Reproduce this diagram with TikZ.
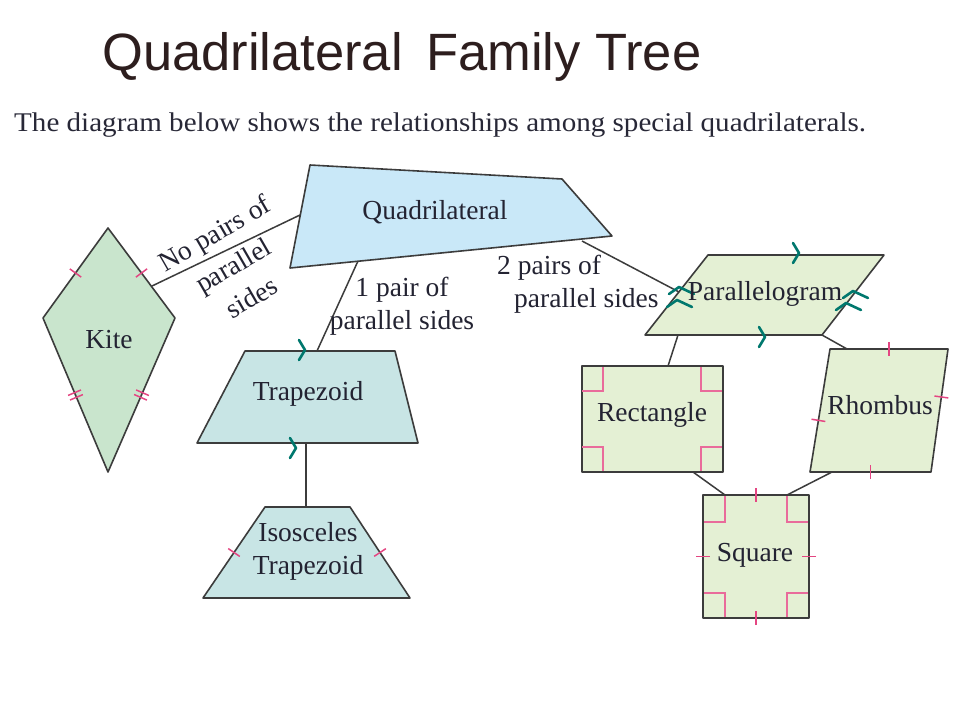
\documentclass[tikz,border=0pt]{standalone}
\usepackage{fontspec}
\setmainfont{Liberation Serif}
\newfontfamily\titlefont{Liberation Sans}
\usetikzlibrary{calc}
\definecolor{titlecol}{RGB}{45,30,30}
\definecolor{subcol}{RGB}{40,40,55}
\definecolor{txtcol}{RGB}{35,35,50}
\definecolor{edgecol}{RGB}{60,60,60}
\definecolor{kitefill}{RGB}{201,229,205}
\definecolor{quadfill}{RGB}{201,232,248}
\definecolor{trapfill}{RGB}{200,229,229}
\definecolor{parafill}{RGB}{228,240,212}
\definecolor{pinkcol}{RGB}{228,70,130}
\definecolor{tealcol}{RGB}{0,120,110}
\tikzset{
  shapebox/.style={draw=edgecol, line width=1.6pt, line join=round},
  link/.style={draw=edgecol, line width=1.5pt},
  lbl/.style={text=txtcol, font=\fontsize{27.5}{33}\selectfont, inner sep=0pt, align=center},
  tickc/.style={draw=pinkcol, line width=1.5pt},
  rightmark/.style={draw=pinkcol!80, line width=1.5pt},
  tealmark/.style={draw=tealcol, line width=2.6pt, line join=round, line cap=round}
}
\newcommand\tickat[3][0.5]{\draw[tickc] ($(#2)!#1!(#3)!7pt!90:(#3)$) -- ($(#2)!#1!(#3)!7pt!-90:(#3)$);}
\newcommand\dtickat[2]{%
  \draw[tickc] ($(#1)!0.5!(#2)!2.5pt!(#2)!7pt!90:(#2)$) -- ($(#1)!0.5!(#2)!2.5pt!(#2)!7pt!-90:(#2)$);
  \draw[tickc] ($(#1)!0.5!(#2)!-2.5pt!(#2)!7pt!90:(#2)$) -- ($(#1)!0.5!(#2)!-2.5pt!(#2)!7pt!-90:(#2)$);}
\newcommand\arrowmark[2]{\draw[tealmark] (#1-3,#2-10) -- (#1+3,#2) -- (#1-3,#2+10);}
\newcommand\hatmark[2]{\draw[tealmark] (#1-13,#2+4) -- (#1-3,#2-3) -- (#1+12,#2+4);}
\begin{document}
\begin{tikzpicture}[x=1pt,y=-1pt]
\useasboundingbox (0,0) rectangle (960,720);
\fill[white] (0,0) rectangle (960,720);

% title and subtitle
\node[anchor=base west, inner sep=0pt, text=titlecol, font=\titlefont\fontsize{52.5}{60}\selectfont] (title) at (102,70) {Quadrilateral\ \,Family Tree};
\node[anchor=base west, inner sep=0pt, text=subcol, font=\fontsize{27}{30}\selectfont] (subtitle) at (14,131) {\scalebox{1.077}[1]{The diagram below shows the relationships among special quadrilaterals.}};

% shape corner coordinates
\coordinate (kT) at (108,228); \coordinate (kL) at (43,318);
\coordinate (kR) at (175,318); \coordinate (kB) at (108,472);
\coordinate (qA) at (310,165); \coordinate (qB) at (562,179);
\coordinate (qC) at (612,236); \coordinate (qD) at (290,268);
\coordinate (tA) at (245,351); \coordinate (tB) at (395,351);
\coordinate (tC) at (418,443); \coordinate (tD) at (197,443);
\coordinate (iA) at (265,507); \coordinate (iB) at (350,507);
\coordinate (iC) at (410,598); \coordinate (iD) at (203,598);
\coordinate (pA) at (708,255); \coordinate (pB) at (884,255);
\coordinate (pC) at (822,335); \coordinate (pD) at (645,335);
\coordinate (rA) at (582,366); \coordinate (rB) at (723,366);
\coordinate (rC) at (723,472); \coordinate (rD) at (582,472);
\coordinate (hA) at (830,349); \coordinate (hB) at (948,349);
\coordinate (hC) at (931,472); \coordinate (hD) at (810,472);
\coordinate (sA) at (703,495); \coordinate (sB) at (809,495);
\coordinate (sC) at (809,618); \coordinate (sD) at (703,618);

% connector end points
\coordinate (c1a) at (152,286); \coordinate (c1b) at (300,215);
\coordinate (c2a) at (358,261); \coordinate (c2b) at (317,351);
\coordinate (c3a) at (582,241); \coordinate (c3b) at (679,292);
\coordinate (c4a) at (306,443); \coordinate (c4b) at (306,507);
\coordinate (c5a) at (678,335); \coordinate (c5b) at (668,366);
\coordinate (c6b) at (847,349);
\coordinate (c7a) at (693,472); \coordinate (c7b) at (725,495);
\coordinate (c8a) at (832,472); \coordinate (c8b) at (787,495);

% connectors
\draw[link] (c1a) -- (c1b);
\draw[link] (c2a) -- (c2b);
\draw[link] (c3a) -- (c3b);
\draw[link] (c4a) -- (c4b);
\draw[link] (c5a) -- (c5b);
\draw[link] (pC) -- (c6b);
\draw[link] (c7a) -- (c7b);
\draw[link] (c8a) -- (c8b);

% shapes
\filldraw[shapebox, fill=kitefill] (kT) -- (kR) -- (kB) -- (kL) -- cycle;
\filldraw[shapebox, fill=quadfill] (qA) -- (qB) -- (qC) -- (qD) -- cycle;
\filldraw[shapebox, fill=trapfill] (tA) -- (tB) -- (tC) -- (tD) -- cycle;
\filldraw[shapebox, fill=trapfill] (iA) -- (iB) -- (iC) -- (iD) -- cycle;
\filldraw[shapebox, fill=parafill] (pA) -- (pB) -- (pC) -- (pD) -- cycle;
\filldraw[shapebox, fill=parafill] (rA) -- (rB) -- (rC) -- (rD) -- cycle;
\filldraw[shapebox, fill=parafill] (hA) -- (hB) -- (hC) -- (hD) -- cycle;
\filldraw[shapebox, fill=parafill] (sA) -- (sB) -- (sC) -- (sD) -- cycle;

% kite marks
\tickat{kT}{kL} \tickat{kT}{kR}
\dtickat{kL}{kB} \dtickat{kR}{kB}
% isosceles trapezoid marks
\tickat{iA}{iD} \tickat{iB}{iC}
% rhombus marks
\tickat{hA}{hB} \tickat[0.39]{hB}{hC} \tickat{hC}{hD} \tickat[0.42]{hD}{hA}
% square marks
\tickat{sA}{sB} \tickat{sB}{sC} \tickat{sC}{sD} \tickat{sD}{sA}
% right angle marks
\draw[rightmark] (582,391) -- (603,391) -- (603,367);
\draw[rightmark] (722,391) -- (701,391) -- (701,367);
\draw[rightmark] (582,447) -- (603,447) -- (603,471);
\draw[rightmark] (722,447) -- (701,447) -- (701,471);
\draw[rightmark] (704,522) -- (725,522) -- (725,496);
\draw[rightmark] (808,522) -- (787,522) -- (787,496);
\draw[rightmark] (704,593) -- (725,593) -- (725,617);
\draw[rightmark] (808,593) -- (787,593) -- (787,617);

% teal parallel marks
\arrowmark{302}{350}
\arrowmark{293}{448}
\arrowmark{796}{253}
\arrowmark{762}{337}
\hatmark{682}{290}
\hatmark{680}{303}
\hatmark{856}{294}
\hatmark{849}{306}

% shape labels
\node[lbl] (kite) at (109,340) {Kite};
\node[lbl] (quad) at (435,212) {Quadrilateral};
\node[lbl] (trap) at (308,394) {Trapezoid};
\node[lbl] (iso) at (308,551) {Isosceles\\Trapezoid};
\node[lbl] (para) at (765,294) {Parallelogram};
\node[lbl] (rect) at (652,415) {Rectangle};
\node[lbl] (rhom) at (880,405) {Rhombus};
\node[lbl] (sq) at (755,555) {Square};

% connector labels
\node[lbl, font=\fontsize{27.5}{37}\selectfont, rotate=30] (nolab) at (233,265) {No pairs of\\parallel\\sides};
\node[lbl] (onelab) at (402,306) {1 pair of\\parallel sides};
\node[lbl, align=left, anchor=north west] (twolab) at (497,255) {2 pairs of\\\hspace*{17pt}parallel sides};
\end{tikzpicture}
\end{document}
